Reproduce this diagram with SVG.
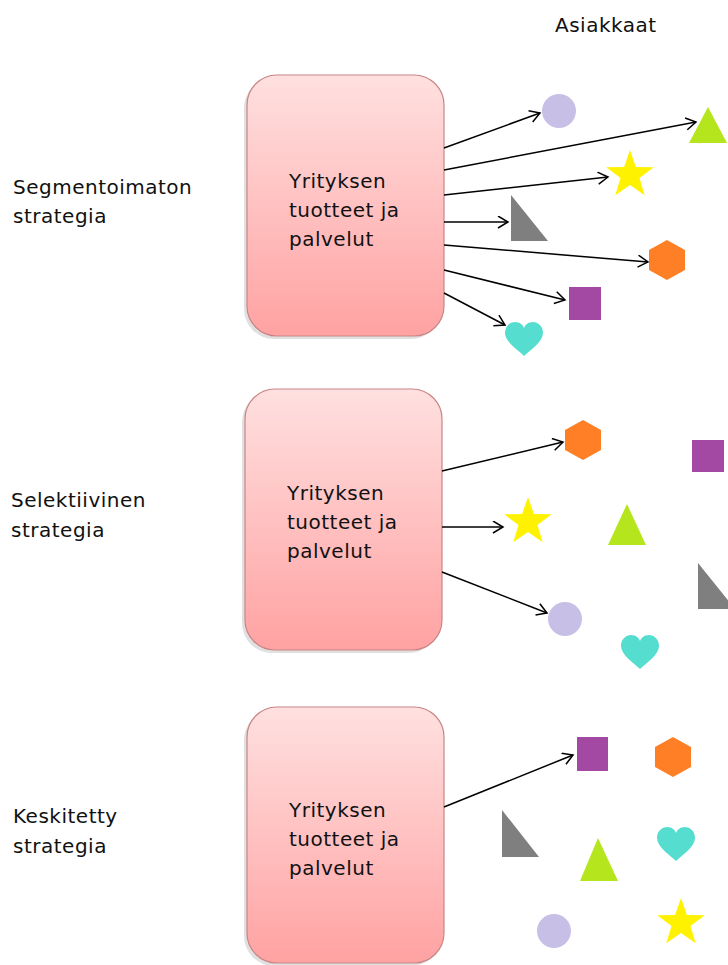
<svg xmlns="http://www.w3.org/2000/svg" width="728" height="965" viewBox="0 0 728 965">
<style>
text{font-family:"DejaVu Sans","Liberation Sans",sans-serif;font-size:20px;letter-spacing:0.5px;fill:#111}
.box{fill:url(#pinkGrad);stroke:#c98585;stroke-width:1.2}
.shadow{fill:#000;opacity:0.12}
.conn{stroke:#000;stroke-width:1.5;fill:none;marker-end:url(#arrow)}
.circ{fill:#c8bfe7}
.tri{fill:#b5e61d}
.star{fill:#fff200}
.rtri{fill:#7f7f7f}
.hex{fill:#ff7f27}
.sq{fill:#a349a4}
.heart{fill:#55ded0}
</style>
<defs>
<linearGradient id="pinkGrad" x1="0" y1="0" x2="0" y2="1">
<stop offset="0" stop-color="#ffe0e0"/>
<stop offset="1" stop-color="#ffa2a2"/>
</linearGradient>
<marker id="arrow" markerUnits="userSpaceOnUse" markerWidth="14" markerHeight="14" refX="11" refY="6.5" orient="auto">
<path d="M1,0.5 L11,6.5 L1,12.5" fill="none" stroke="#000" stroke-width="1.5"/>
</marker>
<polygon id="starShape" points="0,-25 5.88,-8.09 23.78,-7.73 9.51,3.09 14.69,20.23 0,10 -14.69,20.23 -9.51,3.09 -23.78,-7.73 -5.88,-8.09"/>
<polygon id="hexShape" points="0,-20 18,-10 18,10 0,20 -18,10 -18,-10"/>
<path id="heartShape" d="M0,17 C-6,11 -19,3 -19,-6 C-19,-13 -14,-17 -9,-17 C-4,-17 -1,-14 0,-11 C1,-14 4,-17 9,-17 C14,-17 19,-13 19,-6 C19,3 6,11 0,17 Z"/>
</defs>

<rect width="728" height="965" fill="#fff"/>

<g id="title"><text x="555" y="32">Asiakkaat</text></g>

<g id="label1"><text x="13" y="194">Segmentoimaton</text><text x="13" y="223">strategia</text></g>
<g id="label2"><text x="11" y="507">Selektiivinen</text><text x="11" y="537">strategia</text></g>
<g id="label3"><text x="13" y="823">Keskitetty</text><text x="13" y="853">strategia</text></g>

<g id="box1">
<rect class="shadow" x="244" y="78" width="197" height="261" rx="30"/>
<rect class="box" x="247" y="75" width="197" height="261" rx="30"/>
<text x="289" y="188">Yrityksen</text><text x="289" y="217">tuotteet ja</text><text x="289" y="246">palvelut</text>
</g>
<g id="box2">
<rect class="shadow" x="242" y="392" width="197" height="261" rx="30"/>
<rect class="box" x="245" y="389" width="197" height="261" rx="30"/>
<text x="287" y="500">Yrityksen</text><text x="287" y="529">tuotteet ja</text><text x="287" y="558">palvelut</text>
</g>
<g id="box3">
<rect class="shadow" x="244" y="710" width="197" height="256" rx="30"/>
<rect class="box" x="247" y="707" width="197" height="256" rx="30"/>
<text x="289" y="817">Yrityksen</text><text x="289" y="846">tuotteet ja</text><text x="289" y="875">palvelut</text>
</g>

<g id="customers1">
<circle id="s1-circle" class="circ" cx="559" cy="111" r="17"/>
<polygon id="s1-triangle" class="tri" points="708,107 689,143 727,143"/>
<use id="s1-star" href="#starShape" class="star" x="630" y="175"/>
<polygon id="s1-rtriangle" class="rtri" points="511,195 511,241 548,241"/>
<use id="s1-hexagon" href="#hexShape" class="hex" x="667" y="260"/>
<rect id="s1-square" class="sq" x="569" y="287" width="32" height="33"/>
<use id="s1-heart" href="#heartShape" class="heart" x="524" y="339"/>
</g>

<g id="customers2">
<use id="s2-hexagon" href="#hexShape" class="hex" x="583" y="440"/>
<rect id="s2-square" class="sq" x="692" y="440" width="32" height="32"/>
<use id="s2-star" href="#starShape" class="star" x="528" y="522"/>
<polygon id="s2-triangle" class="tri" points="627,504 608,545 646,545"/>
<polygon id="s2-rtriangle" class="rtri" points="698,563 698,609 735,609"/>
<circle id="s2-circle" class="circ" cx="565" cy="619" r="17"/>
<use id="s2-heart" href="#heartShape" class="heart" x="640" y="652"/>
</g>

<g id="customers3">
<rect id="s3-square" class="sq" x="577" y="737" width="31" height="34"/>
<use id="s3-hexagon" href="#hexShape" class="hex" x="673" y="757"/>
<polygon id="s3-rtriangle" class="rtri" points="502,810 502,857 539,857"/>
<polygon id="s3-triangle" class="tri" points="598,838 580,881 618,881"/>
<use id="s3-heart" href="#heartShape" class="heart" x="676" y="844"/>
<circle id="s3-circle" class="circ" cx="554" cy="931" r="17"/>
<use id="s3-star" href="#starShape" class="star" x="681" y="923"/>
</g>

<g id="connectors">
<line class="conn" x1="444" y1="148" x2="540" y2="113"/>
<line class="conn" x1="444" y1="170" x2="696" y2="122"/>
<line class="conn" x1="444" y1="195" x2="608" y2="177"/>
<line class="conn" x1="444" y1="222" x2="508" y2="222"/>
<line class="conn" x1="444" y1="245" x2="648" y2="262"/>
<line class="conn" x1="444" y1="270" x2="565" y2="300"/>
<line class="conn" x1="444" y1="293" x2="505" y2="325"/>
<line class="conn" x1="442" y1="471" x2="563" y2="442"/>
<line class="conn" x1="442" y1="527" x2="503" y2="527"/>
<line class="conn" x1="442" y1="572" x2="547" y2="613"/>
<line class="conn" x1="444" y1="807" x2="573" y2="755"/>
</g>
</svg>
